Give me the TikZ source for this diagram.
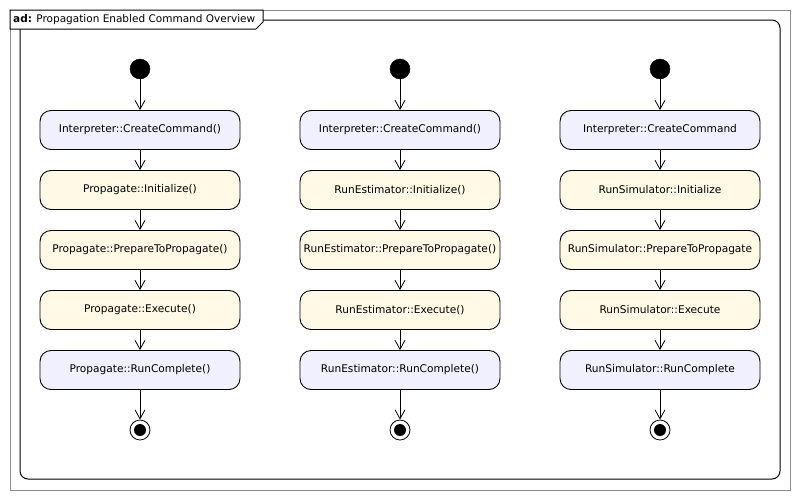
\documentclass[tikz,border=0pt]{standalone}
\usepackage{fontspec}
\setmainfont{DejaVu Sans}
\usetikzlibrary{arrows.meta}
\definecolor{actblue}{RGB}{240,240,255}
\definecolor{actyel}{RGB}{255,249,230}
\definecolor{framegray}{RGB}{140,140,140}
\tikzset{
  act/.style={draw=black, line width=0.9pt, rounded corners=11pt, minimum width=200pt, minimum height=39pt, inner sep=0pt, font=\fontsize{10.6}{12}\selectfont},
  actb/.style={act, fill=actblue},
  acty/.style={act, fill=actyel},
  startdot/.style={circle, fill=black, draw=black, minimum size=20pt, inner sep=0pt},
  enddot/.style={circle, draw=black, line width=0.8pt, minimum size=20pt, inner sep=0pt, path picture={\fill[black] (path picture bounding box.center) circle (6pt);}},
  flow/.style={draw=black, line width=0.8pt, -{Straight Barb[length=9pt,width=10pt,line width=0.8pt]}},
}
\begin{document}
\begin{tikzpicture}[x=1pt,y=-1pt]
\useasboundingbox (0,0) rectangle (800,499);
\fill[white] (0,0) rectangle (800,499);
% outer frame
\draw[framegray, line width=1pt] (10,10) rectangle (790,490);
% inner rounded frame
\draw[black, line width=1pt, rounded corners=8pt] (263,20) -- (780,20) -- (780,479) -- (20,479) -- (20,29);
% title tab
\draw[black, line width=1pt, fill=white] (10,10) -- (263,10) -- (263,22) -- (256,29) -- (10,29) -- cycle;
\node[anchor=west, inner sep=0pt, font=\fontsize{10.5}{12}\selectfont] (title) at (13,19.5) {\textbf{ad:} Propagation Enabled Command Overview};

% column 1
\node[startdot] (s1) at (140,69) {};
\node[actb] (a1) at (140,130) {Interpreter::CreateCommand()};
\node[acty] (b1) at (140,190) {Propagate::Initialize()};
\node[acty] (c1) at (140,250) {Propagate::PrepareToPropagate()};
\node[acty] (d1) at (140,310) {Propagate::Execute()};
\node[actb] (e1) at (140,370) {Propagate::RunComplete()};
\node[enddot] (f1) at (140,430) {};

% column 2
\node[startdot] (s2) at (400,69) {};
\node[actb] (a2) at (400,130) {Interpreter::CreateCommand()};
\node[acty] (b2) at (400,190) {RunEstimator::Initialize()};
\node[acty] (c2) at (400,250) {RunEstimator::PrepareToPropagate()};
\node[acty] (d2) at (400,310) {RunEstimator::Execute()};
\node[actb] (e2) at (400,370) {RunEstimator::RunComplete()};
\node[enddot] (f2) at (400,430) {};

% column 3
\node[startdot] (s3) at (660,69) {};
\node[actb] (a3) at (660,130) {Interpreter::CreateCommand};
\node[acty] (b3) at (660,190) {RunSimulator::Initialize};
\node[acty] (c3) at (660,250) {RunSimulator::PrepareToPropagate};
\node[acty] (d3) at (660,310) {RunSimulator::Execute};
\node[actb] (e3) at (660,370) {RunSimulator::RunComplete};
\node[enddot] (f3) at (660,430) {};

\foreach \c in {1,2,3}{
  \draw[flow] (s\c) -- (a\c);
  \draw[flow] (a\c) -- (b\c);
  \draw[flow] (b\c) -- (c\c);
  \draw[flow] (c\c) -- (d\c);
  \draw[flow] (d\c) -- (e\c);
  \draw[flow] (e\c) -- (f\c);
}
\end{tikzpicture}
\end{document}
